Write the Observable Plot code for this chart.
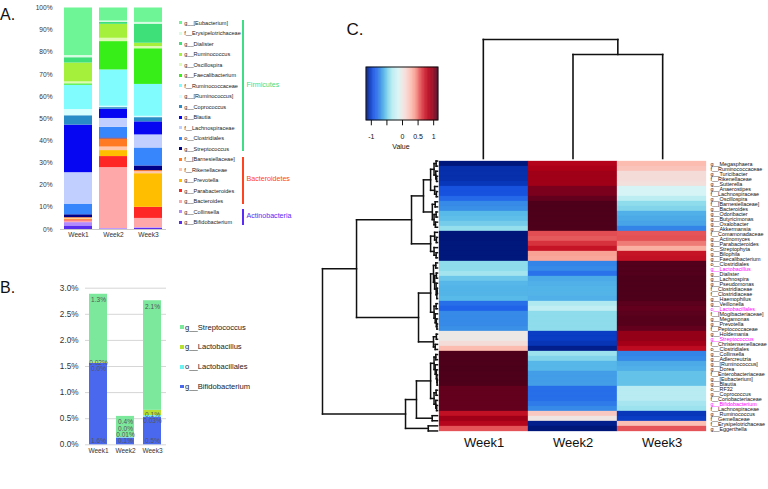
<!DOCTYPE html>
<html><head><meta charset="utf-8">
<script src="https://cdn.jsdelivr.net/npm/d3@7"></script>
<script src="https://cdn.jsdelivr.net/npm/@observablehq/plot@0.6"></script>
<style>
html,body{margin:0;padding:0;background:#fff;}
#root{position:relative;width:768px;height:489px;overflow:hidden;font-family:"Liberation Sans",Arial,Helvetica,sans-serif;color:#111;}
#root > *{position:absolute;}
.txt{position:absolute;white-space:nowrap;line-height:1;}
</style></head><body><div id="root"></div>
<script>
// ---------------- DATA ----------------
const weeks = ["Week1", "Week2", "Week3"];

// Panel A (legend order, top to bottom)
const taxaA = ["g__[Eubacterium]","f__Erysipelotrichaceae","g__Dialister","g__Ruminococcus","g__Oscillospira","g__Faecalibacterium","f__Ruminococcaceae","g__[Ruminococcus]","g__Coprococcus","g__Blautia","f__Lachnospiraceae","o__Clostridiales","g__Streptococcus","f__[Barnesiellaceae]","f__Rikenellaceae","g__Prevotella","g__Parabacteroides","g__Bacteroides","g__Collinsella","g__Bifidobacterium"];
const week1A = [21.45,1.0,2.4,8.5,0.9,0.6,11.0,2.8,4.2,21.5,14.2,4.8,1.3,0.3,0.3,0.4,0.5,0.75,1.5,1.6];
const week2A = [5.87,0.6,0.9,6.3,1.5,12.8,16.4,0.6,0.7,4.2,4.0,4.8,0.4,3.7,1.6,2.7,5.0,27.5,0.3,0.13];
const week3A = [6.5,0.8,8.6,1.5,1.0,16.1,14.4,0.6,1.9,5.9,5.9,8.1,2.1,0.5,0.9,15.2,5.0,4.2,0.3,0.5];
const phyla = ["Firmicutes","Bacteroidetes","Actinobacteria"];
const phylumCounts = [13,5,2];

// Panel B
const bSeries = ["g__Streptococcus","g__Lactobacillus","o__Lactobacillales","g__Bifidobacterium"];
const bifidoB = [1.56,0.13,0.53];
const lactobacillalesB = [0.004,0.01,0.03];
const lactobacillusB = [0.02,0.004,0.1];
const streptoB = [1.3,0.4,2.1];
const bifidoLabels = ["1.6%","0.1%","0.5%"];
const lactobacillalesLabels = ["0.0%","0.01%","0.03%"];
const lactobacillusLabels = ["0.02%","0.0%","0.1%"];
const streptoLabels = ["1.3%","0.4%","2.1%"];

// Panel C (row-scaled values)
const heatRows = ["g__Megasphaera","f__Ruminococcaceae","g__Turicibacter","f__Rikenellaceae","g__Sutterella","g__Anaerostipes","f__Lachnospiraceae","g__Oscillospira","f__[Barnesiellaceae]","g__Bacteroides","g__Odoribacter","g__Butyricimonas","g__Oxalobacter","g__Akkermansia","f__Comamonadaceae","g__Actinomyces","g__Parabacteroides","o__Streptophyta","g__Bilophila","g__Faecalibacterium","o__Clostridiales","g__Lactobacillus","g__Dialister","g__Lachnospira","g__Pseudomonas","f__Clostridiaceae","f__Clostridiaceae","g__Haemophilus","g__Veillonella","o__Lactobacillales","f__[Mogibacteriaceae]","g__Megamonas","g__Prevotella","f__Peptococcaceae","g__Holdemania","g__Streptococcus","f__Christensenellaceae","o__Clostridiales","g__Collinsella","g__Adlercreutzia","g__[Ruminococcus]","g__Dorea","f__Enterobacteriaceae","g__[Eubacterium]","g__Blautia","o__RF32","g__Coprococcus","f__Coriobacteriaceae","g__Bifidobacterium","f__Lachnospiraceae","g__Ruminococcus","f__Gemellaceae","f__Erysipelotrichaceae","g__Eggerthella"];
const highlightedRows = ["g__Lactobacillus","o__Lactobacillales","g__Streptococcus","g__Bifidobacterium"];
const week1Z = [-1.15,-1.05,-1.05,-1.05,-1.02,-0.92,-0.92,-0.82,-0.7,-0.68,-0.55,-0.53,-0.48,-0.4,
 -1.155,-1.155,-1.15,-1.15,-1.15,-1.15,
 -0.42,-0.42,-0.36,-0.5,-0.56,-0.57,-0.57,-0.55,-0.8,-0.85,-0.7,-0.7,-0.7,-0.68,
 0.0,0.0,0.1,0.3,
 1.15,1.15,1.15,1.155,1.15,1.15,1.15,1.1,1.1,1.1,1.1,1.1,
 0.8,0.95,0.85,0.58];
const week2Z = [0.86,0.9,0.95,0.95,0.95,1.05,1.05,1.1,1.15,1.15,1.15,1.15,1.15,1.15,
 0.6,0.57,0.68,0.78,0.4,0.38,
 -0.72,-0.7,-0.78,-0.6,-0.58,-0.57,-0.57,-0.58,-0.32,-0.25,-0.42,-0.42,-0.42,-0.42,
 -1.0,-1.0,-1.03,-1.12,
 -0.38,-0.45,-0.56,-0.56,-0.64,-0.64,-0.64,-0.8,-0.8,-0.8,-0.75,-0.7,
 0.22,0.03,-1.12,-1.155];
const week3Z = [0.3,0.25,0.1,0.1,0.08,-0.12,-0.12,-0.28,-0.42,-0.45,-0.58,-0.6,-0.62,-0.72,
 0.58,0.59,0.5,0.35,0.78,0.8,
 1.14,1.14,1.14,1.15,1.15,1.15,1.15,1.15,1.12,1.1,1.12,1.13,1.13,1.1,
 1.0,1.0,0.93,0.82,
 -0.72,-0.7,-0.6,-0.58,-0.52,-0.52,-0.52,-0.3,-0.3,-0.3,-0.35,-0.38,
 -1.02,-1.0,0.28,0.58];
const legendTicks = [-1,-0.5,0,0.5,1];
const legendTickLabels = ["-1","","0","0.5","1"];

// Dendrograms (merge heights; leaves are row / column indices)
const colTree = {h:10, c:[0, {h:8.74, c:[1,2]}]};
const rowTree = {h:10, c:[
  {h:7.04, c:[
    {h:2.26, c:[
      {h:1.22, c:[
        {h:0.6, c:[{h:0.3,c:[{h:0.12,c:[0,1]},{h:0.15,c:[2,{h:0.08,c:[3,4]}]}]},{h:0.25,c:[5,{h:0.1,c:[6,7]}]}]},
        {h:0.45, c:[{h:0.2,c:[8,9]},{h:0.3,c:[{h:0.12,c:[10,11]},{h:0.18,c:[12,13]}]}]}
      ]},
      {h:0.6, c:[{h:0.25,c:[14,{h:0.1,c:[15,16]}]},{h:0.3,c:[17,{h:0.12,c:[18,19]}]}]}
    ]},
    {h:1.65, c:[
      {h:0.6, c:[
        {h:0.35, c:[{h:0.15,c:[20,21]},{h:0.25,c:[{h:0.1,c:[22,23]},{h:0.12,c:[24,{h:0.06,c:[{h:0.03,c:[25,26]},27]}]}]}]},
        {h:0.3, c:[{h:0.12,c:[28,29]},{h:0.2,c:[30,{h:0.1,c:[31,{h:0.05,c:[32,33]}]}]}]}
      ]},
      {h:0.35, c:[{h:0.1,c:[34,35]},{h:0.2,c:[36,37]}]}
    ]}
  ]},
  {h:2.78, c:[
    {h:1.83, c:[
      {h:0.6, c:[
        {h:0.3, c:[{h:0.15,c:[38,39]},{h:0.2,c:[40,{h:0.1,c:[41,{h:0.05,c:[42,{h:0.03,c:[43,44]}]}]}]}]},
        {h:0.3, c:[{h:0.12,c:[45,46]},{h:0.15,c:[47,{h:0.08,c:[48,49]}]}]}
      ]},
      {h:0.46, c:[50,51]}
    ]},
    {h:0.8, c:[52,53]}
  ]}
]};

// ---------------- STYLES ----------------
const FONT = '"Liberation Sans", Arial, Helvetica, sans-serif';
const paletteA = ["#6ef596","#d6fce2","#3ee07a","#a4f03a","#ddfbb2","#38ee18","#80fcff","#d8ffff","#2a8cc6","#0606f2","#c0cfff","#3886fc","#000088","#ff7a22","#ffc6ae","#ffbe00","#ff2626","#fea8aa","#b488ff","#5a2cee"];
const phylumColors = ["#3edd86","#ff4422","#5a2cf5"];
const paletteB = ["#7ce89c","#b8e030","#6cf2f2","#4a68ee"];
const heatStops =  [-1.155,-1.0,-0.9,-0.78,-0.68,-0.55,-0.42,-0.3,-0.12,0,0.12,0.3,0.45,0.58,0.75,0.88,1.0,1.08,1.155];
const heatColors = ["#00177a","#0a3cc4","#1a58e6","#2a72ea","#3a90e6","#58bae8","#8edcec","#b8ecf2","#d6f4f6","#ece8e6","#f6dad6","#fcbcb0","#f69488","#e45458","#cc1a2c","#b00018","#940018","#6c0020","#4c001a"];
const heatColor = {type:"linear", domain: heatStops, range: heatColors};
const baseStyle = {fontFamily: FONT, background: "transparent", overflow: "visible", color: "#222"};

const root = document.getElementById("root");
function place(el, left, top) { el.style.position = "absolute"; el.style.left = left + "px"; el.style.top = top + "px"; root.appendChild(el); return el; }
function txt(s, left, top, size, color, extra) {
  const d = document.createElement("div"); d.className = "txt"; d.textContent = s;
  d.style.fontSize = size + "px"; d.style.color = color || "#111";
  if (extra) Object.assign(d.style, extra);
  return place(d, left, top);
}

// ---------------- PANEL A ----------------
const aValues = [week1A, week2A, week3A];
const stackOrderA = taxaA.slice().reverse();
const aData = [];
for (const t of stackOrderA) weeks.forEach((w, j) => aData.push({week: w, taxon: t, value: aValues[j][taxaA.indexOf(t)]}));
const aTicks = d3.range(0, 101, 10);
const plotA = Plot.plot({
  width: 175, height: 250, marginLeft: 60, marginRight: 9, marginTop: 7.5, marginBottom: 21,
  style: {...baseStyle, fontSize: "6.6px"},
  x: {domain: weeks, paddingInner: 0.2, paddingOuter: 0.1, label: null},
  y: {domain: [0, 100], label: null},
  color: {domain: taxaA, range: paletteA},
  marks: [
    Plot.axisY(aTicks, {tickSize: 0, tickPadding: 8, tickFormat: d => d + "%", fontSize: 6.6, fill: "#333", label: null}),
    Plot.axisX({tickSize: 0, tickPadding: 3, fontSize: 6.6, fill: "#333", label: null}),
    Plot.barY(aData, {x: "week", y: "value", fill: "taxon", order: stackOrderA}),
    Plot.ruleY([0], {stroke: "#c8c8c8"})
  ]
});
place(plotA, 0, 0);

// Legend A (HTML)
const legA = document.createElement("div");
place(legA, 179, 0);
taxaA.forEach((t, i) => {
  const row = document.createElement("div");
  Object.assign(row.style, {position: "absolute", left: "0px", top: (17.7 + i * 10.5) + "px", height: "10px", display: "flex", alignItems: "center", fontSize: "5.6px", whiteSpace: "nowrap", color: "#222"});
  const sq = document.createElement("span");
  Object.assign(sq.style, {display: "inline-block", width: "3.2px", height: "3.2px", background: paletteA[i], marginRight: "2px"});
  row.appendChild(sq); row.appendChild(document.createTextNode(t));
  legA.appendChild(row);
});
let startIdx = 0;
phyla.forEach((p, k) => {
  const first = 22.7 + startIdx * 10.5, last = 22.7 + (startIdx + phylumCounts[k] - 1) * 10.5;
  const bar = document.createElement("div");
  Object.assign(bar.style, {width: "2.6px", height: (last - first + 5.2) + "px", background: phylumColors[k]});
  place(bar, 241.7, first - 2.7);
  const mid = (first + last) / 2;
  txt(p, 246.5, mid - 4.2, 7.1, phylumColors[k]);
  startIdx += phylumCounts[k];
});

// ---------------- PANEL B ----------------
const bValues = {"g__Bifidobacterium": bifidoB, "o__Lactobacillales": lactobacillalesB, "g__Lactobacillus": lactobacillusB, "g__Streptococcus": streptoB};
const bLabelsBy = {"g__Bifidobacterium": bifidoLabels, "o__Lactobacillales": lactobacillalesLabels, "g__Lactobacillus": lactobacillusLabels, "g__Streptococcus": streptoLabels};
const stackOrderB = bSeries.slice().reverse();
const bData = [], bLabelData = [];
weeks.forEach((w, i) => {
  let cum = 0, prev = -Infinity;
  stackOrderB.forEach((s, j) => {
    const v = bValues[s][i];
    bData.push({week: w, series: s, value: v});
    cum += v;
    const ly = j === 0 ? 0.07 : Math.max(cum - 0.11, prev + 0.12);
    prev = ly;
    bLabelData.push({week: w, ly, label: bLabelsBy[s][i]});
  });
});
const bTicks = d3.range(0, 3.01, 0.5);
const plotB = Plot.plot({
  width: 175, height: 239, marginLeft: 85, marginRight: 9, marginTop: 37.7, marginBottom: 44.7,
  style: {...baseStyle, fontSize: "8px"},
  x: {domain: weeks, paddingInner: 0.33, paddingOuter: 0.165, label: null},
  y: {domain: [0, 3], label: null},
  color: {domain: bSeries, range: paletteB},
  marks: [
    Plot.gridY(bTicks, {stroke: "#d6d6d6", strokeOpacity: 1}),
    Plot.axisY(bTicks, {tickSize: 0, tickPadding: 7, tickFormat: d => d.toFixed(1) + "%", fontSize: 8.2, fill: "#333", label: null}),
    Plot.axisX({tickSize: 0, tickPadding: 4, fontSize: 6.5, fill: "#333", label: null}),
    Plot.barY(bData, {x: "week", y: "value", fill: "series", order: stackOrderB}),
    Plot.text(bLabelData, {x: "week", y: "ly", text: "label", fontSize: 6.5, fill: "#555"})
  ]
});
place(plotB, 0, 250);

// Legend B (HTML)
const legB = document.createElement("div");
place(legB, 180, 0);
bSeries.forEach((s, i) => {
  const row = document.createElement("div");
  Object.assign(row.style, {position: "absolute", left: "0px", top: (322 + i * 19.9) + "px", height: "10px", display: "flex", alignItems: "center", fontSize: "7.6px", whiteSpace: "nowrap", color: "#222"});
  const sq = document.createElement("span");
  Object.assign(sq.style, {display: "inline-block", width: "3.6px", height: "3.6px", background: paletteB[i], marginRight: "1.5px"});
  row.appendChild(sq); row.appendChild(document.createTextNode(s));
  legB.appendChild(row);
});

// ---------------- PANEL C ----------------
const zCols = [week1Z, week2Z, week3Z];
const hData = [];
heatRows.forEach((lab, i) => weeks.forEach((w, j) => hData.push({row: i, week: w, value: zCols[j][i]})));
const rowLabelData = heatRows.map((lab, i) => ({row: i, label: lab, hi: highlightedRows.includes(lab)}));
const plotC = Plot.plot({
  width: 448, height: 489, marginLeft: 118, marginRight: 61, marginTop: 158, marginBottom: 56,
  style: {...baseStyle, fontSize: "13px", color: "#111"},
  x: {domain: weeks, padding: 0, label: null, tickSize: 0, tickPadding: 4},
  y: {domain: d3.range(heatRows.length), padding: 0, axis: null},
  color: heatColor,
  marks: [
    Plot.cell(hData, {x: "week", y: "row", fill: "value", stroke: "value", strokeWidth: 0.3}),
    Plot.text(rowLabelData.filter(d => !d.hi), {y: "row", text: "label", frameAnchor: "right", textAnchor: "start", dx: 3, fontSize: 5.4, fill: "#111"}),
    Plot.text(rowLabelData.filter(d => d.hi), {y: "row", text: "label", frameAnchor: "right", textAnchor: "start", dx: 3, fontSize: 5.4, fill: "#ff00ff"})
  ]
});
place(plotC, 320, 0);

function dendroSegments(node, segs) {
  if (typeof node === "number") return {p: node + 0.5, h: 0};
  const kids = node.c.map(k => dendroSegments(k, segs));
  for (const k of kids) segs.push({p1: k.p, h1: k.h, p2: k.p, h2: node.h});
  segs.push({p1: kids[0].p, h1: node.h, p2: kids[kids.length - 1].p, h2: node.h});
  return {p: d3.mean(kids, k => k.p), h: node.h};
}
const colSegs = []; dendroSegments(colTree, colSegs);
const rowSegs = []; dendroSegments(rowTree, rowSegs);

const plotColDendro = Plot.plot({
  width: 269, height: 158, margin: 0, style: baseStyle,
  x: {domain: [0, weeks.length], range: [0, 269], axis: null},
  y: {domain: [0, 10], range: [158, 39], axis: null},
  marks: [Plot.link(colSegs, {x1: "p1", y1: "h1", x2: "p2", y2: "h2", stroke: "#111", strokeWidth: 1.6, strokeLinecap: "square"})]
});
place(plotColDendro, 438, 0);

const plotRowDendro = Plot.plot({
  width: 118, height: 275, margin: 0, style: baseStyle,
  x: {domain: [0, 10], range: [117, 2], axis: null},
  y: {domain: [0, heatRows.length], range: [0, 275], axis: null},
  marks: [Plot.link(rowSegs, {x1: "h1", y1: "p1", x2: "h2", y2: "p2", stroke: "#111", strokeWidth: 1.5, strokeLinecap: "square"})]
});
place(plotRowDendro, 320, 158);

// Colour key
const kMin = heatStops[0], kMax = heatStops[heatStops.length - 1];
const keySlices = d3.range(120).map(i => {
  const x1 = kMin + (kMax - kMin) * i / 120, x2 = kMin + (kMax - kMin) * (i + 1) / 120;
  return {x1, x2, v: (x1 + x2) / 2};
});
const plotKey = Plot.plot({
  width: 90, height: 100, margin: 0, style: {...baseStyle, fontSize: "7px"},
  x: {domain: [kMin, kMax], range: [6, 78], axis: null},
  y: {domain: [0, 1], range: [60, 7], axis: null},
  color: heatColor,
  marks: [
    Plot.rect(keySlices, {x1: "x1", x2: "x2", y1: 0, y2: 1, fill: "v", stroke: "v", strokeWidth: 0.3}),
    Plot.rect([0], {x1: kMin, x2: kMax, y1: 0, y2: 1, fill: "none", stroke: "#111", strokeWidth: 1}),
    Plot.ruleX(legendTicks, {x: d => d, y1: 0, y2: -0.1, stroke: "#111", strokeWidth: 1}),
    Plot.text(legendTicks, {x: d => d, y: -0.3, text: (d, i) => legendTickLabels[i], fontSize: 7, fill: "#111"}),
    Plot.text(["Value"], {x: -0.05, y: -0.5, text: d => d, fontSize: 7, fill: "#111"})
  ]
});
place(plotKey, 360, 60);

// Panel letters
txt("A.", 0, 7, 16, "#111");
txt("B.", 0, 279.5, 16, "#111");
txt("C.", 346.5, 20.6, 17, "#111");
</script></body></html>
